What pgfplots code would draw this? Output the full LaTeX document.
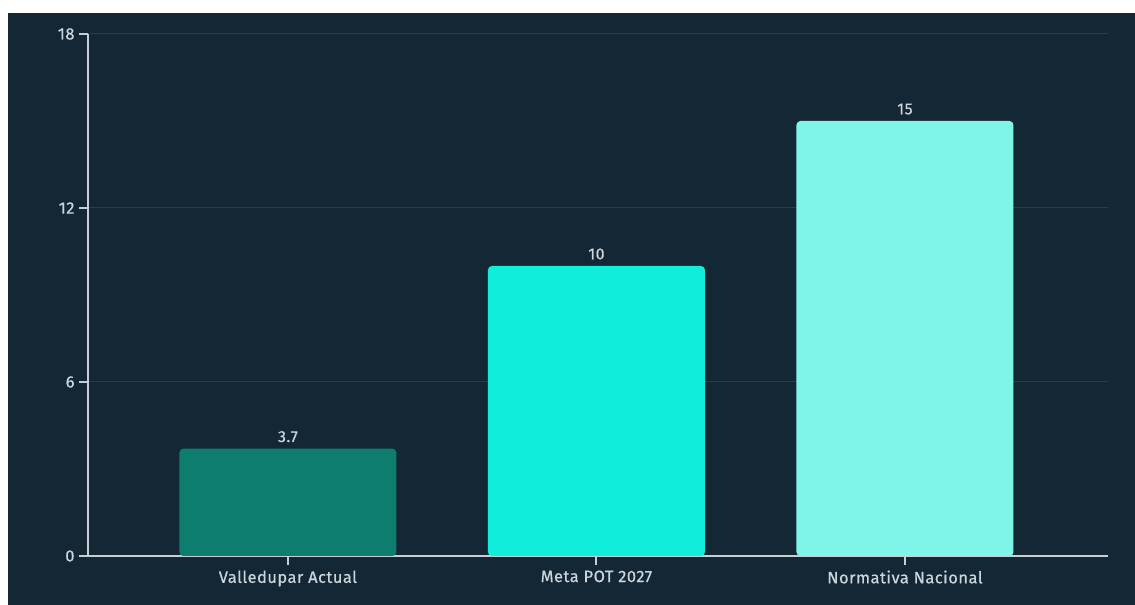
\documentclass[border=0pt]{standalone}
\usepackage{pgfplots}
\pgfplotsset{compat=1.18}
\usepackage{fontspec}
\setmainfont{Fira Sans}
\newfontfamily\lab[LetterSpace=3, FakeBold=0.5]{Fira Sans}
\definecolor{bg}{HTML}{132834}
\definecolor{gridc}{HTML}{2A3E4A}
\definecolor{axisc}{HTML}{C6CED6}
\definecolor{txt}{HTML}{CDD5DC}
\definecolor{barA}{HTML}{0D7D70}
\definecolor{barB}{HTML}{10EEDB}
\definecolor{barC}{HTML}{7FF5EA}
\begin{document}
\begin{tikzpicture}[x=1bp,y=1bp]
\useasboundingbox (0,0) rectangle (1135,605);
\fill[white] (0,0) rectangle (1135,605);
\fill[bg] (8,0) rectangle (1135,592);
\begin{axis}[
  at={(88bp,49bp)}, anchor=south west,
  scale only axis, width=1020bp, height=522bp,
  xmin=-0.648, xmax=2.658, ymin=0, ymax=18,
  axis lines=left,
  axis line style={-, draw=axisc, line width=2bp},
  tick align=outside,
  major tick length=9bp,
  tick style={draw=axisc, line width=2bp},
  xtick={0,1,2},
  xticklabels={Valledupar Actual, Meta POT 2027, Normativa Nacional},
  ytick={0,6,12,18},
  ymajorgrids,
  grid style={draw=gridc, line width=1bp},
  /pgf/number format/assume math mode=true,
  tick label style={font=\lab\fontsize{16.5}{18}\selectfont, text=txt},
  xticklabel style={yshift=-2bp},
  yticklabel style={xshift=-1bp},
  ybar, bar width=217bp,
  nodes near coords,
  nodes near coords style={font=\lab\fontsize{16}{18}\selectfont, text=txt, yshift=3bp},
  point meta=explicit symbolic,
]
\addplot[bar shift=0pt, fill=barA, draw=none, rounded corners=4bp] coordinates {(0,3.7) [3.7]};
\addplot[bar shift=0pt, fill=barB, draw=none, rounded corners=4bp] coordinates {(1,10) [10]};
\addplot[bar shift=0pt, fill=barC, draw=none, rounded corners=4bp] coordinates {(2,15) [15]};
\end{axis}
\end{tikzpicture}
\end{document}
